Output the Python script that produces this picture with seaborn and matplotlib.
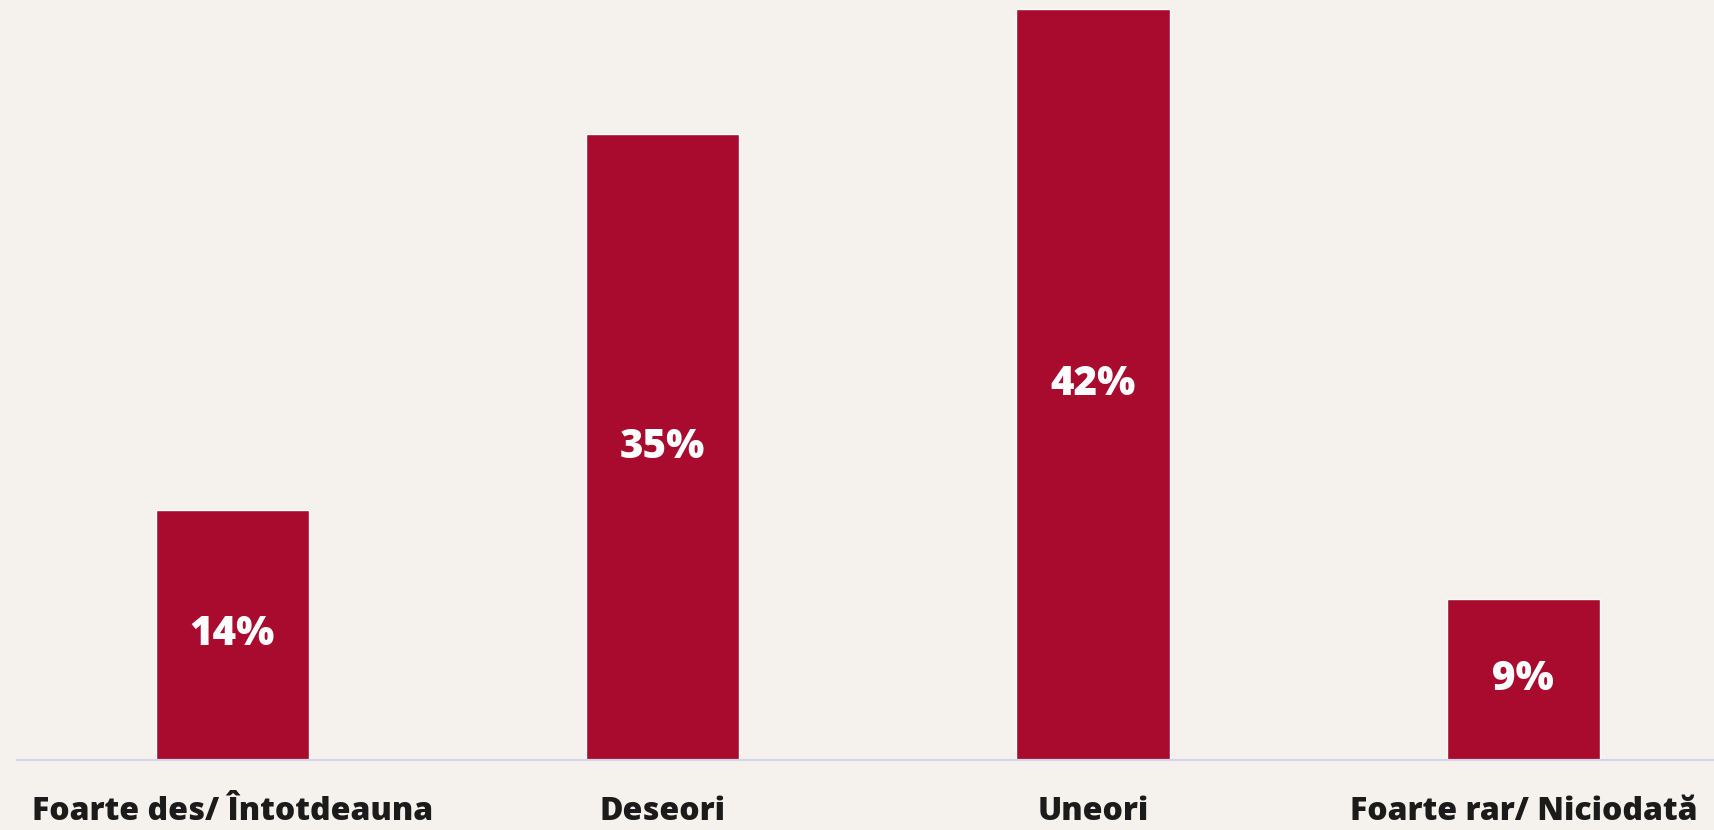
import matplotlib
matplotlib.use("Agg")
import matplotlib.pyplot as plt
import seaborn as sns

# date din grafic
categorii = ["Foarte des/ Întotdeauna", "Deseori", "Uneori", "Foarte rar/ Niciodată"]
procente = [14, 35, 42, 9]

BG = "#f5f2ed"
BAR = "#a90b2f"
AXIS = "#d6d3ec"
TEXT = "#1b1b1b"

sns.set_theme(style="white")
plt.rcParams['font.family'] = ['Open Sans', 'DejaVu Sans']

fig = plt.figure(figsize=(17.14, 8.3), dpi=100, facecolor=BG)
ax = fig.add_axes([17 / 1714, 70 / 830, 1697 / 1714, 760 / 830])
ax.set_facecolor(BG)

sns.barplot(x=categorii, y=procente, color=BAR, width=0.356, saturation=1, ax=ax)

ax.bar_label(ax.containers[0], labels=[f"{v}%" for v in procente], label_type="center",
             color="white", fontsize=29, fontweight="heavy")

ax.set_xlim(-0.5, 3.443)
ax.set_ylim(0, 42.5)
ax.set_yticks([])
ax.set_xlabel("")
ax.set_ylabel("")
for s in ["left", "right", "top"]:
    ax.spines[s].set_visible(False)
ax.spines["bottom"].set_color(AXIS)
ax.spines["bottom"].set_linewidth(1.6)
ax.tick_params(axis="x", length=0, pad=26, labelsize=23, labelcolor=TEXT)
for t in ax.get_xticklabels():
    t.set_fontweight("heavy")

fig.savefig("out.png", dpi=100, facecolor=BG)
